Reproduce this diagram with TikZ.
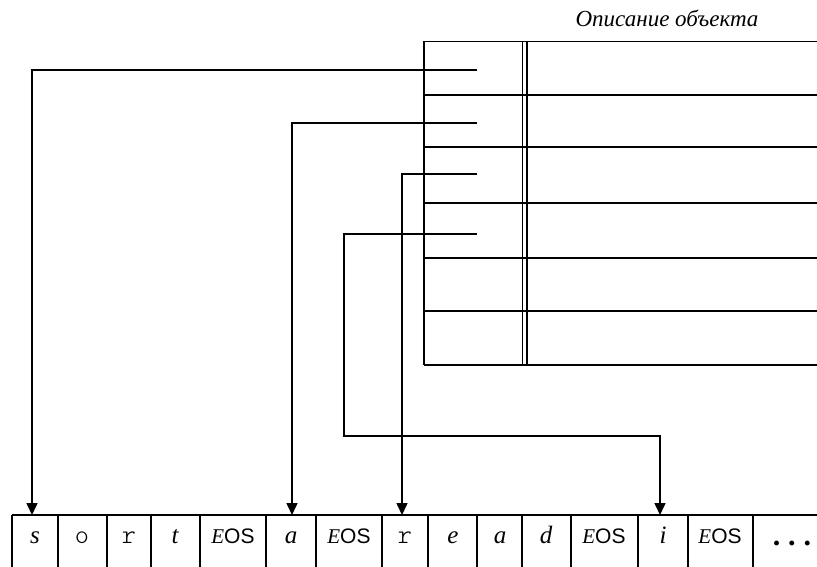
\documentclass[tikz,border=0pt]{standalone}
\usepackage{fontspec}
\setmainfont{Liberation Serif}
\setsansfont{Liberation Sans}
\setmonofont{Latin Modern Mono Light}
\usetikzlibrary{arrows.meta}
\begin{document}
\begin{tikzpicture}[x=1pt,y=-1pt,
  rule/.style={line width=1.6pt},
  thinrule/.style={line width=1.3pt},
  ptr/.style={line width=1.6pt,-{Triangle[length=12pt,width=11pt]}},
  cell/.style={inner sep=0pt,anchor=base,font=\itshape\fontsize{25}{28}\selectfont},
  eos/.style={cell,font=\fontsize{21}{24}\selectfont},
  mono/.style={cell,font=\ttfamily\fontsize{27}{30}\selectfont},
  caption/.style={inner sep=0pt,anchor=base,font=\itshape\fontsize{23}{27}\selectfont}]
\useasboundingbox (0,0) rectangle (817,567);

% object description table
\node[caption] (title) at (667,27) {Описание объекта};
\draw[rule] (424,41.5) -- (424,365);
\foreach \y in {41.5,95,147,203,258,311,365}
  \draw[thinrule] (424,\y) -- (830,\y);
\draw[thinrule] (522.5,41.5) -- (522.5,365);
\draw[thinrule] (527,41.5) -- (527,365);

% pointer fields
\coordinate (p1) at (477,70);
\coordinate (p2) at (477,123);
\coordinate (p3) at (477,174);
\coordinate (p4) at (477,234);

% string storage row
\draw[rule] (12,515) -- (830,515);
\foreach \x in {12,58,107,151,200,266,316,382,428,477,522,571,638,688,753}
  \draw[rule] (\x,515) -- (\x,580);
\node[cell] (c1)  at (35,543)  {s};
\node[mono] (c2)  at (82,543)  {o};
\node[mono] (c3)  at (129,543) {r};
\node[cell] (c4)  at (175,543) {t};
\node[eos]  (c5)  at (233,543) {\textit{E}\textsf{OS}};
\node[cell] (c6)  at (291,543) {a};
\node[eos]  (c7)  at (349,543) {\textit{E}\textsf{OS}};
\node[mono] (c8)  at (405,543) {r};
\node[cell] (c9)  at (453,543) {e};
\node[cell] (c10) at (500,543) {a};
\node[cell] (c11) at (546,543) {d};
\node[eos]  (c12) at (604,543) {\textit{E}\textsf{OS}};
\node[cell] (c13) at (663,543) {i};
\node[eos]  (c14) at (720,543) {\textit{E}\textsf{OS}};
\node[cell,font=\bfseries\fontsize{30}{32}\selectfont] (c15) at (792,545)
  {.\hspace{8pt}.\hspace{8pt}.};

% arrow targets on the top edge of the row
\coordinate (t1) at (32,515);
\coordinate (t2) at (292,515);
\coordinate (t3) at (402,515);
\coordinate (t4) at (660,515);

% pointers into the string storage
\draw[ptr] (p1) -| (t1);
\draw[ptr] (p2) -| (t2);
\draw[ptr] (p3) -| (t3);
\draw[ptr] (p4) -| (344,436) -| (t4);
\end{tikzpicture}
\end{document}
